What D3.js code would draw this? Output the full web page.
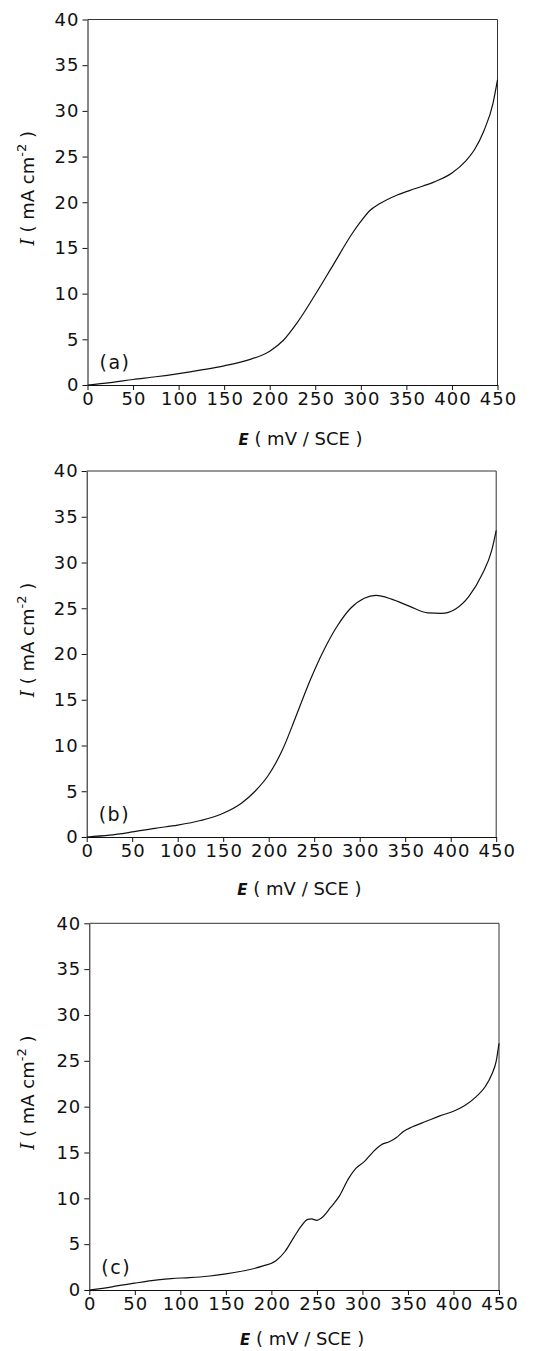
<!DOCTYPE html>
<html>
<head>
<meta charset="utf-8">
<script src="https://d3js.org/d3.v7.min.js"></script>
<style>
  body { margin: 0; background: #fff; }
</style>
</head>
<body>
<script>
// curve (a)
var eA = [0, 25, 50, 75, 100, 125, 150, 175, 200, 215, 230, 250, 270, 290, 300, 310, 320, 340, 360, 380, 400, 415, 425, 435, 445, 450];
var iA = [0, 0.25, 0.6, 0.9, 1.25, 1.65, 2.1, 2.7, 3.7, 4.9, 6.8, 9.9, 13.2, 16.5, 17.9, 19.1, 19.8, 20.8, 21.5, 22.2, 23.2, 24.5, 25.8, 27.8, 30.8, 33.4];
// curve (b)
var eB = [0, 25, 50, 75, 100, 125, 150, 170, 185, 200, 215, 230, 245, 260, 275, 290, 305, 318, 335, 355, 375, 390, 405, 420, 435, 445, 450];
var iB = [0, 0.2, 0.55, 0.95, 1.3, 1.8, 2.6, 3.7, 5.0, 6.8, 9.5, 13.2, 17.0, 20.3, 23.0, 25.0, 26.1, 26.4, 26.0, 25.2, 24.5, 24.45, 24.9, 26.3, 28.8, 31.3, 33.5];
// curve (c)
var eC = [0, 25, 50, 75, 90, 110, 130, 150, 170, 190, 205, 215, 225, 233, 240, 244, 250, 255, 265, 275, 285, 293, 302, 312, 320, 330, 337, 345, 355, 370, 385, 400, 412, 425, 435, 442, 447, 450];
var iC = [0, 0.35, 0.75, 1.1, 1.25, 1.35, 1.5, 1.75, 2.1, 2.6, 3.2, 4.2, 5.8, 7.0, 7.7, 7.75, 7.6, 7.85, 9.0, 10.3, 12.2, 13.3, 14.0, 15.1, 15.8, 16.2, 16.6, 17.3, 17.8, 18.4, 19.0, 19.5, 20.1, 21.1, 22.2, 23.5, 25.0, 26.9];

var xTicks = [0, 50, 100, 150, 200, 250, 300, 350, 400, 450];
var yTicks = [0, 5, 10, 15, 20, 25, 30, 35, 40];
var letters = ["(a)", "(b)", "(c)"];

var series = [
  d3.zip(eA, iA),
  d3.zip(eB, iB),
  d3.zip(eC, iC)
];

// panel frames on the page (tt = offset of the x title below the axis)
var panels = [
  {left: 87.5, top: 19.5, w: 410, h: 365.5, tt: 60},
  {left: 86.7, top: 471, w: 409.5, h: 366, tt: 58},
  {left: 89.3, top: 923.3, w: 409.7, h: 366.7, tt: 55}
];

var svg = d3.select("body").append("svg")
  .attr("width", 542)
  .attr("height", 1351);

svg.append("rect").attr("width", 542).attr("height", 1351).attr("fill", "#fff");

var font = "DejaVu Sans, sans-serif";

panels.forEach(function(p, k) {
  var x = d3.scaleLinear().domain([0, 450]).range([p.left, p.left + p.w]);
  var y = d3.scaleLinear().domain([0, 40]).range([p.top + p.h, p.top]);
  var g = svg.append("g");

  // top and right border
  g.append("line")
    .attr("x1", x(0)).attr("x2", x(450)).attr("y1", y(40)).attr("y2", y(40))
    .attr("stroke", "#333").attr("stroke-width", 1);
  g.append("line")
    .attr("x1", x(450)).attr("x2", x(450)).attr("y1", y(40)).attr("y2", y(0))
    .attr("stroke", "#333").attr("stroke-width", 1);

  var ax = g.append("g")
    .attr("transform", "translate(0," + y(0) + ")")
    .call(d3.axisBottom(x).tickValues(xTicks).tickSize(5).tickSizeOuter(0).tickPadding(2));
  var ay = g.append("g")
    .attr("transform", "translate(" + x(0) + ",0)")
    .call(d3.axisLeft(y).tickValues(yTicks).tickSize(5).tickSizeOuter(0).tickPadding(3));

  [ax, ay].forEach(function(a) {
    a.attr("font-family", font).attr("font-size", 18);
    a.selectAll("path, line").attr("stroke", "#111");
    a.selectAll("text").attr("fill", "#111").attr("letter-spacing", 1);
  });
  ax.selectAll("text").attr("dx", 0.5);

  // the curve
  var line = d3.line()
    .x(function(d) { return x(d[0]); })
    .y(function(d) { return y(d[1]); })
    .curve(d3.curveMonotoneX);
  g.append("path")
    .datum(series[k])
    .attr("d", line)
    .attr("fill", "none")
    .attr("stroke", "#111")
    .attr("stroke-width", 1.2);

  // panel letter
  g.append("text")
    .attr("x", x(0) + 12)
    .attr("y", y(0) - 16)
    .attr("font-family", font)
    .attr("font-size", 19)
    .attr("letter-spacing", 1.5)
    .attr("fill", "#111")
    .text(letters[k]);

  // x title
  var xt = g.append("text")
    .attr("x", x(0) + p.w / 2 + 8)
    .attr("y", y(0) + p.tt)
    .attr("text-anchor", "middle")
    .attr("font-family", font)
    .attr("font-size", 18)
    .attr("fill", "#111");
  xt.append("tspan").attr("font-style", "italic").attr("font-weight", "bold").attr("font-size", 15).text("E");
  xt.append("tspan").text(" ( mV / SCE )");

  // y title
  var yt = g.append("text")
    .attr("transform", "translate(34," + (y(20) - 14) + ") rotate(-90)")
    .attr("text-anchor", "middle")
    .attr("font-family", font)
    .attr("font-size", 18)
    .attr("fill", "#111");
  yt.append("tspan").attr("font-family", "DejaVu Serif, serif").attr("font-style", "italic").text("I");
  yt.append("tspan").text(" ( mA cm");
  yt.append("tspan").attr("font-size", 13).attr("dy", -8).text("-2");
  yt.append("tspan").attr("dy", 8).text(" )");
});
</script>
</body>
</html>
